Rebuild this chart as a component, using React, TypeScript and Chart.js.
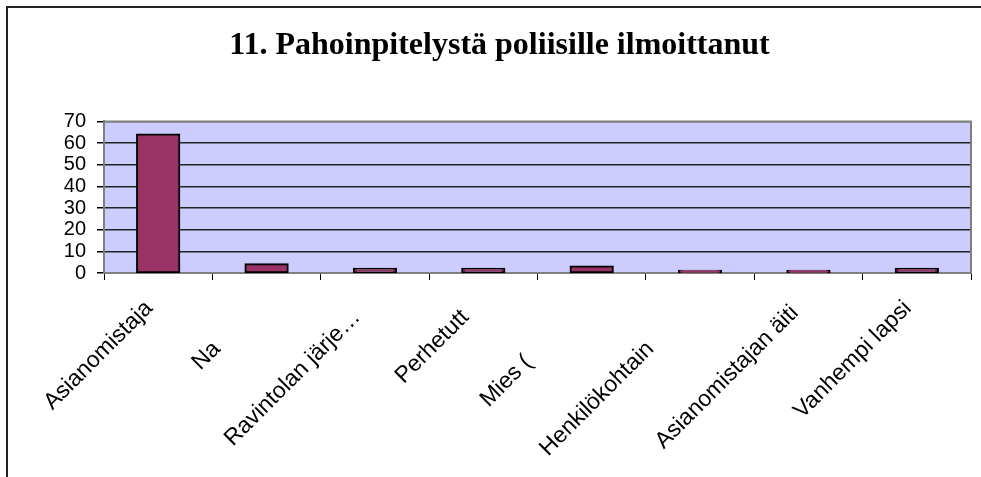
import React, { useEffect, useRef } from "react";
import { Chart, registerables } from "chart.js";
Chart.register(...registerables);

const chartTitle = "11. Pahoinpitelystä poliisille ilmoittanut";
// Visible (clipped) label texts as in the reference; trailing spaces keep the
// clipped part's room so the visible text sits where it does in the picture.
const sp = (n: number) => "\u00a0".repeat(n);
const categories = [
  "Asianomistaja" + sp(2),
  "Na" + sp(11),
  "Ravintolan järje…" + sp(4),
  "Perhetutt" + sp(4),
  "Mies (" + sp(14),
  "Henkilökohtain" + sp(11),
  "Asianomistajan äiti" + sp(3),
  "Vanhempi lapsi" + sp(2),
];
const values = [64, 4, 2, 2, 3, 1, 1, 2];
const yMin = 0;
const yMax = 70;
const yStep = 10;

export default function App() {
  const ref = useRef<HTMLCanvasElement>(null);
  useEffect(() => {
    if (!ref.current) return;
    const plotFrame = {
      id: "plotFrame",
      beforeDraw(chart: any) {
        const { ctx, chartArea: a } = chart;
        ctx.save();
        ctx.fillStyle = "#ccccff";
        ctx.fillRect(a.left, a.top, a.right - a.left, a.bottom - a.top);
        ctx.restore();
      },
      beforeDatasetsDraw(chart: any) {
        const { ctx, chartArea: a } = chart;
        ctx.save();
        ctx.strokeStyle = "#808080";
        ctx.lineWidth = 2;
        ctx.beginPath();
        ctx.moveTo(a.left, a.top);
        ctx.lineTo(a.right, a.top);
        ctx.lineTo(a.right, a.bottom);
        ctx.stroke();
        ctx.restore();
      },
    };
    const chart = new Chart(ref.current, {
      type: "bar",
      data: {
        labels: categories,
        datasets: [
          {
            data: values,
            backgroundColor: "#993366",
            borderColor: "#000000",
            borderWidth: 2,
            borderSkipped: false,
            inflateAmount: 1,
            categoryPercentage: 1,
            barPercentage: 0.39,
          },
        ],
      },
      plugins: [plotFrame],
      options: {
        responsive: false,
        animation: false,
        devicePixelRatio: 1,
        layout: { padding: { left: 28, right: 10, top: 0, bottom: 0 } },
        plugins: {
          legend: { display: false },
          tooltip: { enabled: false },
          title: {
            display: true,
            text: chartTitle,
            color: "#000",
            font: {
              family: '"Liberation Serif", "Times New Roman", serif',
              size: 32,
              weight: "bold",
              lineHeight: 1.2,
            },
            padding: { top: 27, bottom: 56 },
          },
        },
        scales: {
          x: {
            grid: {
              offset: true,
              drawOnChartArea: false,
              drawTicks: true,
              tickLength: 7,
              tickColor: "#000",
              lineWidth: 1,
            },
            border: { color: "#808080", width: 2 },
            ticks: {
              autoSkip: false,
              minRotation: 45,
              maxRotation: 45,
              padding: 6,
              color: "#000",
              font: { family: '"Liberation Sans", Arial, sans-serif', size: 23 },
            },
            afterFit(s: any) {
              s.height = 204;
            },
          },
          y: {
            min: yMin,
            max: yMax,
            ticks: {
              stepSize: yStep,
              autoSkip: false,
              padding: 11,
              color: "#000",
              font: { family: '"Liberation Sans", Arial, sans-serif', size: 20 },
            },
            grid: {
              color: (c: any) =>
                c.tick && (c.tick.value === yMin || c.tick.value === yMax) ? "#808080" : "#222",
              lineWidth: 1.5,
              tickLength: 7,
              tickColor: "#000",
            },
            border: { color: "#808080", width: 2 },
            afterFit(s: any) {
              s.width = 76;
            },
          },
        },
      },
    });
    return () => chart.destroy();
  }, []);

  return (
    <div style={{ position: "absolute", left: 0, top: 0, width: 981, height: 477, overflow: "hidden", background: "#fff" }}>
      <div
        style={{
          position: "absolute",
          left: 6,
          top: 6,
          width: 1200,
          height: 800,
          borderLeft: "2px solid #222",
          borderTop: "2px solid #222",
        }}
      />
      <canvas ref={ref} width={981} height={477} style={{ position: "absolute", left: 0, top: 0, display: "block" }} />
    </div>
  );
}
